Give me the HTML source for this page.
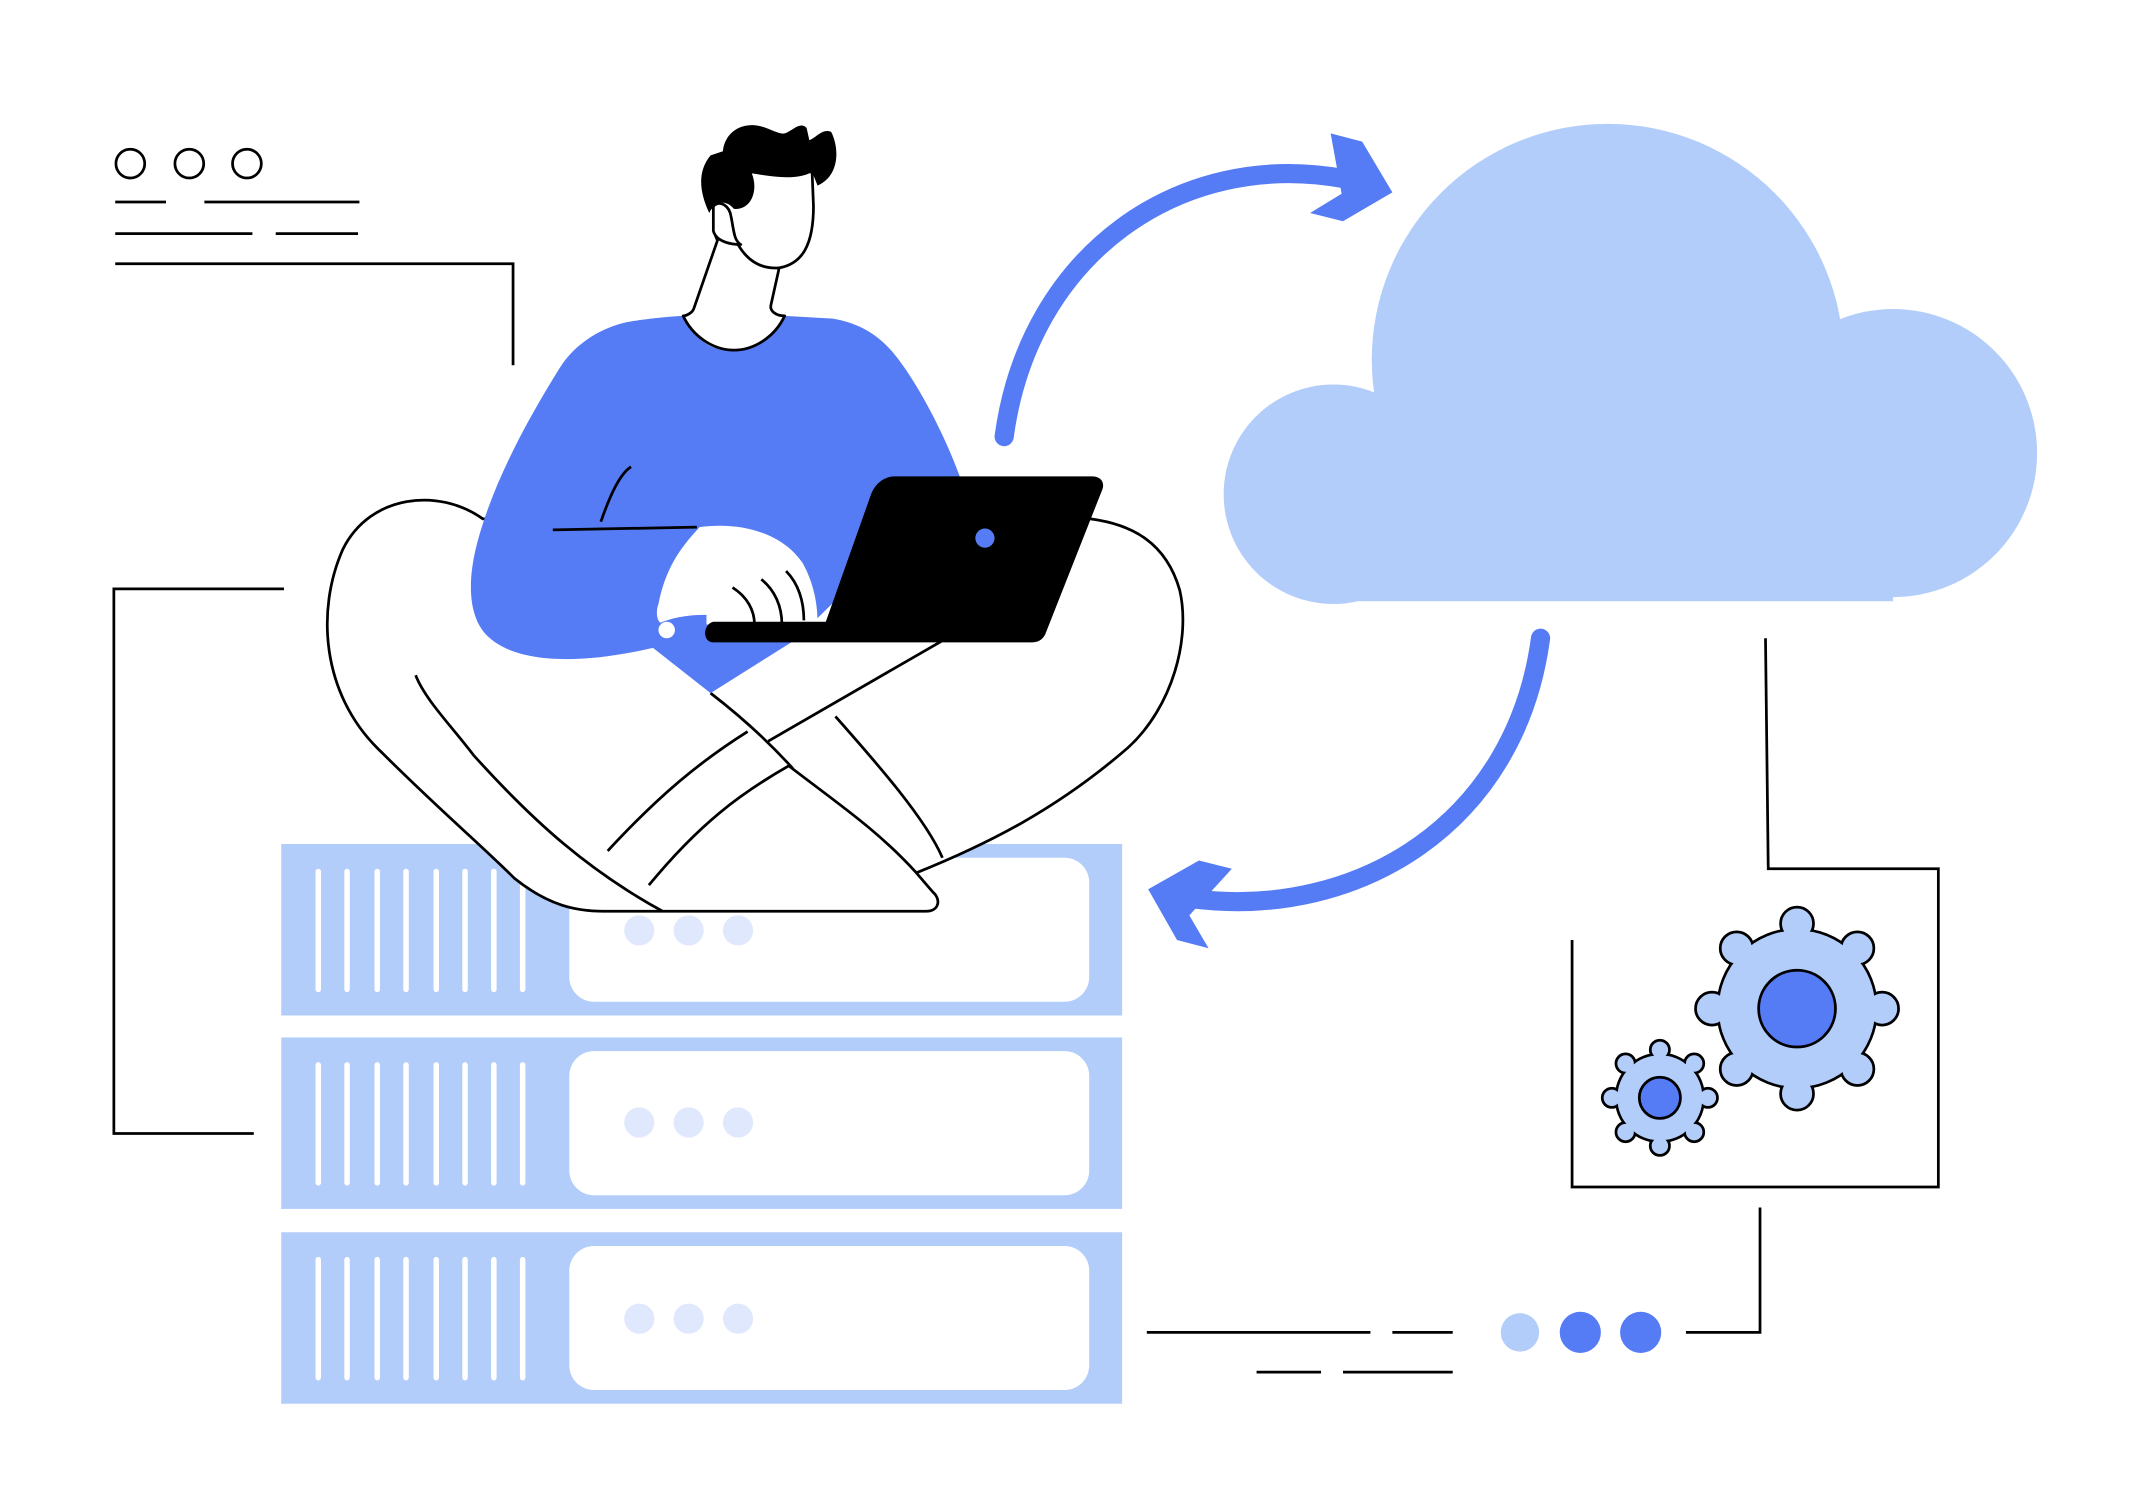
<!DOCTYPE html>
<html><head><meta charset="utf-8"><style>html,body{margin:0;padding:0;background:#fff}svg{display:block}</style></head>
<body>
<svg width="2140" height="1496" viewBox="0 0 1560 1090" xmlns="http://www.w3.org/2000/svg">
<g fill="none" stroke="#000" stroke-width="2">
<circle cx="95" cy="119" r="10.5"/><circle cx="138" cy="119" r="10.5"/><circle cx="180" cy="119" r="10.5"/>
<path d="M84 147H121M149 147H262M84 170H184M201 170H261M84 192H374V266"/>
<path d="M207 429H83V826H185"/>
<path d="M1287 465L1289 633H1413V865H1146V685"/>
<path d="M1283 880V971H1229"/>
<path d="M836 971H999M1015 971H1059M916 1000H963M979 1000H1059"/>
</g>
<g fill="#b3cdfb">
<rect x="205" y="615" width="613" height="125"/>
<rect x="205" y="756" width="613" height="125"/>
<rect x="205" y="898" width="613" height="125"/>
</g>
<g fill="#fff">
<rect x="415" y="625" width="379" height="105" rx="18"/>
<rect x="415" y="766" width="379" height="105" rx="18"/>
<rect x="415" y="908" width="379" height="105" rx="18"/>
</g>
<g stroke="#fff" stroke-width="4" stroke-linecap="round">
<path d="M232 635V721M253 635V721M275 635V721M296 635V721M318 635V721M339 635V721M360 635V721M381 635V721"/>
<path d="M232 776V862M253 776V862M275 776V862M296 776V862M318 776V862M339 776V862M360 776V862M381 776V862"/>
<path d="M232 918V1004M253 918V1004M275 918V1004M296 918V1004M318 918V1004M339 918V1004M360 918V1004M381 918V1004"/>
</g>
<g fill="#dfe8fd">
<circle cx="466" cy="678" r="11"/><circle cx="502" cy="678" r="11"/><circle cx="538" cy="678" r="11"/>
<circle cx="466" cy="818" r="11"/><circle cx="502" cy="818" r="11"/><circle cx="538" cy="818" r="11"/>
<circle cx="466" cy="961" r="11"/><circle cx="502" cy="961" r="11"/><circle cx="538" cy="961" r="11"/>
</g>
<g fill="#b3cdfb">
<circle cx="972" cy="360" r="80"/>
<circle cx="1172" cy="262" r="172"/>
<circle cx="1380" cy="330" r="105"/>
<rect x="975" y="300" width="405" height="138"/>
</g>
<g fill="none" stroke="#557cf5" stroke-width="14" stroke-linecap="round">
<path d="M732 318C750 185 860 108 980 130"/>
<path d="M1123 465C1105 600 990 670 870 655"/>
</g>
<g fill="#557cf5">
<polygon points="970,97 993,103 1015,140 979,161 955,155 978,141"/>
<polygon points="898,633 874,627 837,648 858,685 881,691 867,667"/>
</g>
<g stroke="#000" stroke-width="2" fill="#b3cdfb">
<circle cx="1310" cy="735" r="58"/>
<g transform="translate(1310 735)">
<circle cx="0" cy="-62" r="12"/><circle cx="44" cy="-44" r="12"/><circle cx="62" cy="0" r="12"/><circle cx="44" cy="44" r="12"/><circle cx="0" cy="62" r="12"/><circle cx="-44" cy="44" r="12"/><circle cx="-62" cy="0" r="12"/><circle cx="-44" cy="-44" r="12"/>
<circle r="57" stroke="none"/>
<circle r="28" fill="#557cf5"/>
</g>
<circle cx="1210" cy="800" r="32"/>
<g transform="translate(1210 800)">
<circle cx="0" cy="-35" r="7"/><circle cx="25" cy="-25" r="7"/><circle cx="35" cy="0" r="7"/><circle cx="25" cy="25" r="7"/><circle cx="0" cy="35" r="7"/><circle cx="-25" cy="25" r="7"/><circle cx="-35" cy="0" r="7"/><circle cx="-25" cy="-25" r="7"/>
<circle r="31" stroke="none"/>
<circle r="15" fill="#557cf5"/>
</g>
</g>
<circle cx="1108" cy="971" r="14" fill="#b3cdfb"/>
<circle cx="1152" cy="971" r="15" fill="#557cf5"/>
<circle cx="1196" cy="971" r="15" fill="#557cf5"/>
<g stroke="#000" stroke-width="2" stroke-linejoin="round">
<path fill="#fff" d="M352 378C320 355 270 360 250 400C230 445 235 505 275 545C320 590 350 615 375 640C400 660 420 664 440 664H675C685 664 686 655 680 650L668 636C720 615 770 590 822 545C855 515 868 465 860 430C850 395 825 382 795 378Z"/>
<path fill="none" d="M303 492C310 510 330 530 345 550C390 600 430 635 483 664M443 620C480 580 510 555 545 533M473 645C510 600 540 578 575 558C610 585 640 605 668 636M560 540L690 465M518 505C540 522 560 540 578 560M609 522C640 557 675 597 687 625"/>
</g>
<path fill="#557cf5" d="M498 230C480 231 465 233 455 235C435 240 418 252 408 268C385 305 360 350 348 395C340 425 342 450 355 463C375 483 420 485 476 472L518 505L580 466L700 348C690 320 670 280 652 258C640 243 625 235 607 232L572 230C560 252 535 260 518 252C510 248 502 240 498 230Z"/>
<path fill="#fff" d="M498 230C502 240 510 248 518 252C535 260 560 252 572 230Z"/>
<g fill="none" stroke="#000" stroke-width="2">
<path d="M403 386L508 384M438 380C445 360 452 345 460 340"/>
</g>
<path fill="#fff" d="M510 384C540 380 570 388 585 410C595 428 596 445 596 455H485C478 455 478 445 480 440C485 415 495 400 510 384Z"/>
<path fill="#557cf5" d="M478 455C490 450 500 448 515 448V468H490Z"/>
<circle cx="486" cy="459" r="6" fill="#fff"/>
<g fill="none" stroke="#000" stroke-width="2">
<path d="M534 428C545 435 550 445 550 455M555 422C565 430 570 442 570 455M573 416C582 425 586 438 586 452"/>
</g>
<path fill="#000" d="M652 347H796C803 347 806 352 803 358L762 462C760 466 757 468 752 468H520C512 468 512 455 520 453H602L635 360C638 352 645 347 652 347Z"/>
<circle cx="718" cy="392" r="7" fill="#557cf5"/>
<g stroke="#000" stroke-width="2" stroke-linejoin="round">
<path fill="#fff" d="M523 175L506 224C505 228 500 230 498 230C505 245 520 255 535 255C550 255 565 245 572 230C565 230 561 226 562 222L568 195C585 192 593 178 593 150L592 125L545 125L530 140C520 150 518 165 523 175Z"/>
<path fill="#fff" d="M520 150C525 145 532 150 533 158C535 168 535 175 540 178C533 178 522 176 520 168Z"/>
</g>
<path d="M538 178C545 190 555 196 568 195" fill="none" stroke="#000" stroke-width="2"/>
<path fill="#000" d="M517 155C510 140 508 125 518 113L527 110C528 98 538 90 550 91C560 92 567 98 572 97C578 95 583 88 588 93L590 102C595 100 600 93 606 96C612 108 612 128 596 135L592 125C580 132 560 128 548 126C553 138 548 153 535 152C530 146 522 145 517 155Z"/>
</svg>
</body></html>
